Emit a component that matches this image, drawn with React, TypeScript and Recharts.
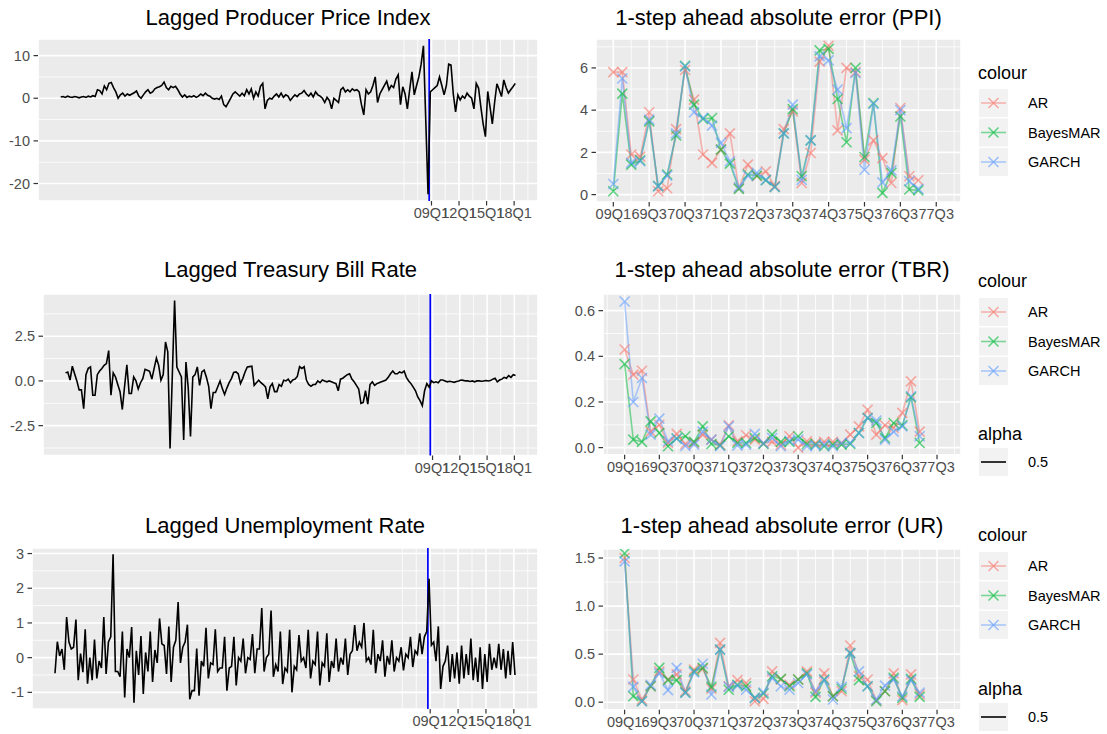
import React from 'react';
import { LineChart, Line, XAxis, YAxis, CartesianGrid, ReferenceLine } from 'recharts';

const FONT = '"Liberation Sans", Arial, Helvetica, sans-serif';

// ---- left column: lagged series, one value per quarter (index 0 = 1968Q4) ----
const ppiLagged = [
  0.3, 0.4, 0.2, 0.5, 0.3, 0.2, 0.4, 0.3, 0.1, 0.3, 0.4, 0.2, 0.5, 0.3, 0.6, 0.4,
  2.0, 1.8, 1.0, 2.9, 2.0, 3.5, 3.7, 2.5, 1.5, 0.0,
  0.8, 1.2, 0.5, 1.0, 0.7, 1.0, 1.3, 1.7, 0.5, 0.0,
  0.8, 1.5, 2.0, 1.2, 1.5, 2.2, 2.5, 2.7, 3.0, 3.8, 2.5,
  2.0, 2.8, 2.5, 2.8, 2.0, 1.0, 0.3, 0.8,
  0.2, 0.5, 0.3, 0.6, 0.2, 0.5, 1.0, 0.6, 1.2, 0.7, 0.5, 0.0,
  -0.2, 0.0, -0.3, 0.5, -1.5, -2.0,
  -1.0, 0.0, 1.0, 1.5, 1.0, 0.5, 1.2, 0.6, 2.0,
  1.0, 2.2, 0.0, 1.5, 0.5, 2.8, 3.5,
  -2.5, -0.5, 0.0, -0.2, 0.5, 1.0, 0.3, 1.2, 0.2, 0.8,
  0.5, -0.5, 0.2, 0.8, 0.4, 1.0, 1.2, 1.8, 1.0,
  0.5, 1.2, 0.3, 1.5, 0.8, 0.5,
  0.0, -1.0, 0.2, -0.5, -2.5, 0.0, -0.5, -1.0,
  2.0, 2.5, 1.5, 2.0, 1.5, 2.2, 1.8, 2.0, 1.5,
  -1.5, -3.9, 2.0, 1.0, 1.5, 3.0, 5.0, -1.0,
  1.0, 2.0, 3.0, 4.0, 2.0, 3.0, 2.5, 4.5, 5.5,
  -1.5, 2.7, 1.0, -2.5, 2.0, 6.2, 0.8, 3.0, 5.0, 8.0,
  12.3, -5.0, -22.5,
  1.5, 2.0, 2.5, 3.0, 5.0, 3.0, 0.8, 3.0, 8.0, 7.8, 1.0, -3.2, 0.8, -0.4, 0.5, 0.0,
  1.2, 0.5, 0.0, -2.5, 3.5, 2.4, -2.0, -6.0, -9.0, 1.6, -2.0, -6.0, -1.0, 3.4, 2.0,
  0.4, 4.3, 2.5, 1.2, 2.0, 2.7, 3.5,
];

const tbrLagged = [
  0.45, 0.5, 0.05, 0.82, 0.4, 0.0, -0.5, -0.5, -1.55, 0.35,
  0.7, 0.78, -0.8, -0.8, 0.35, 0.55, 0.7, 0.87, 0.97, 1.7,
  -0.8, 0.45, 0.22, -0.2, -0.6, -1.6, -0.3, 0.9, -0.7, -0.7,
  0.22, 0.0, -0.45, -0.1, 0.13, 0.65, 0.6, 0.54, 0.1, 0.7,
  1.28, 0.87, 0.04, 0.35, 2.18, 1.62, -3.78, 0.3, 4.5, 0.78,
  0.5, 0.22, -3.3, 1.06, -0.4, -3.1, 0.22, 0.35, 0.78, -0.25,
  0.5, 0.6, 0.2, -0.3, -1.55, -0.65, -0.65, -0.33, 0.0, -0.43,
  -0.76, -0.4, -0.1, 0.13, 0.47, 0.5, 0.4, -0.15, 0.13, 0.5,
  0.78, 0.8, 0.82, -0.25, -0.1, 0.04, -0.1, -0.2, -0.33, -1.0,
  -0.33, -0.15, -0.6, -0.6, -0.2, -0.3, 0.04, 0.0, 0.1, -0.1,
  0.05, 0.1, 0.25, 0.8, 0.7, 0.8, 0.05, -0.2, -0.3, -0.2,
  -0.2, 0.0, -0.1, 0.05, 0.0, -0.05, 0.0, -0.05, -0.1, -0.15,
  -0.55, 0.1, 0.15, 0.25, 0.35, 0.4, 0.1, -0.05, -0.25, -0.45,
  -1.25, -1.2, -0.55, -1.3, -0.2, -0.05, -0.25, -0.15, -0.1, -0.05,
  0.0, 0.05, 0.2, 0.4, 0.55, 0.4, 0.4, 0.5, 0.45, 0.55,
  0.2, 0.0, -0.15, -0.35, -0.55, -0.9, -1.1, -1.38, -0.55, -0.15,
  -0.35, 0.0, -0.1, -0.05, -0.1, 0.05, 0.05, 0.0, -0.05, -0.02,
  -0.05, -0.08, -0.03, 0.0, 0.05, 0.03, 0.0, 0.0, -0.03, 0.0,
  -0.05, 0.0, 0.0, -0.02, 0.0, 0.02, 0.0, 0.02, 0.1, 0.15,
  -0.05, 0.05, 0.1, 0.2, 0.15, 0.3, 0.2, 0.35, 0.3,
];

const urLagged = [
  -0.45, 0.46, 0.05, 0.25, -0.35, 1.17, 0.45, 0.25, 0.3, 1.1,
  -0.65, 0.12, -0.42, 0.82, -0.75, 0.0, -0.65, 0.52, -0.6, -0.1,
  -0.3, 1.17, -0.47, 0.45, 0.6, 2.98, -0.4, -0.4, -0.55, 0.75,
  -1.15, 0.25, 0.0, 0.88, -1.3, 0.2, -0.5, 0.62, -1.05, 0.15,
  -0.4, 0.75, -0.7, 0.22, -0.15, 1.13, 0.4, 0.35, -0.47, 0.9,
  -0.7, 0.3, 0.5, 1.6, -0.15, 0.3, 0.45, 0.95, -1.2, -0.95,
  -0.95, 0.26, -1.1, -0.1, -0.25, 0.86, -0.6, -0.15, -0.2, 0.82,
  -0.4, -0.3, -0.3, 0.6, -0.95, -0.3, -0.25, 0.6, -0.8, 0.0,
  -0.1, 0.55, -0.45, 0.0, -0.05, 0.68, -0.45, 0.25, 0.25, 1.43,
  -0.4, 0.0, 0.1, 1.36, -0.55, -0.2, -0.4, 0.75, -0.76, -0.3,
  -0.4, 0.8, -1.0, -0.25, -0.35, 0.65, -0.1, 0.0, -0.3, 0.8,
  -0.6, -0.1, -0.2, 0.75, -0.8, -0.15, -0.25, 0.7, -0.7, -0.1,
  -0.3, 0.55, -0.4, 0.0, -0.2, 0.55, -0.5, 0.1, 0.2, 0.94,
  0.2, 0.45, 0.3, 1.0, -0.1, 0.0, -0.2, 0.8, -0.45, 0.1,
  -0.1, 0.5, -0.55, 0.05, -0.2, 0.5, -0.4, 0.0, -0.1, 0.3,
  -0.37, 0.1, 0.0, 0.6, -0.27, 0.2, 0.1, 0.7, 0.1, 0.6,
  0.75, 2.27, 0.36, 0.45, -0.1, 0.9, -0.9, -0.25, -0.1, 0.35,
  -0.7, 0.1, -0.6, 0.15, -0.75, 0.35, -0.6, 0.1, -0.5, 0.55,
  -0.65, 0.0, -0.7, 0.3, -0.9, 0.1, -0.7, 0.4, -0.35, 0.0,
  -0.3, 0.4, -0.35, 0.25, -0.6, 0.2, -0.5, 0.45, -0.5,
];

const lagTicks = [161.5, 173.5, 185.5, 197.5];
const lagTickLabels = ['09Q1', '12Q1', '15Q1', '18Q1'];
const lagMinorX = [149.5, 155.5, 167.5, 179.5, 191.5, 203.5];
const splitQuarter = 160.5;

// ---- right column: 1-step ahead absolute errors, 35 forecast quarters ----
const errTickLabels = ['09Q1', '69Q3', '70Q3', '71Q3', '72Q3', '73Q3', '74Q3', '75Q3', '76Q3', '77Q3'];
const errTicks = [0, 4, 8, 12, 16, 20, 24, 28, 32, 36];
const errMinorX = [-2, 2, 6, 10, 14, 18, 22, 26, 30, 34, 38];

const ppiAR = [5.8, 5.8, 1.9, 1.8, 3.9, 0.16, 0.3, 3.1, 5.9, 4.5, 1.9, 1.5, 2.13, 2.9, 0.3, 1.42, 0.87, 1.1, 0.4, 3.1, 3.94, 0.55, 1.97, 6.3, 7.05, 3.04, 6.0, 5.8, 1.66, 2.57, 1.73, 0.55, 4.1, 0.87, 0.68];
const ppiBayes = [0.16, 4.78, 1.42, 1.62, 3.47, 0.4, 0.95, 2.8, 6.1, 4.26, 3.58, 3.63, 2.13, 1.47, 0.27, 0.95, 0.9, 0.68, 0.36, 2.9, 4.05, 0.87, 2.57, 6.83, 6.9, 4.53, 2.48, 6.0, 1.78, 4.34, 0.08, 1.03, 3.7, 0.24, 0.2];
const ppiGarch = [0.5, 5.5, 1.5, 1.58, 3.55, 0.4, 0.9, 2.9, 6.07, 3.9, 3.63, 3.27, 2.45, 1.58, 0.36, 0.9, 1.03, 0.7, 0.36, 2.9, 4.26, 0.7, 2.57, 6.55, 6.36, 4.97, 3.15, 5.76, 1.18, 4.3, 0.58, 1.15, 4.0, 0.63, 0.27];

const tbrAR = [0.43, 0.32, 0.337, 0.07, 0.1, 0.02, 0.06, 0.016, 0.02, 0.057, 0.035, 0.013, 0.098, 0.028, 0.054, 0.035, 0.019, 0.025, 0.013, 0.05, 0.0, 0.028, 0.02, 0.025, 0.025, 0.02, 0.057, 0.093, 0.166, 0.057, 0.098, 0.086, 0.152, 0.29, 0.07];
const tbrBayes = [0.366, 0.035, 0.025, 0.115, 0.064, 0.006, 0.04, 0.05, 0.025, 0.093, 0.016, 0.01, 0.05, 0.02, 0.02, 0.042, 0.016, 0.057, 0.025, 0.025, 0.05, 0.016, 0.013, 0.006, 0.013, 0.013, 0.016, 0.064, 0.13, 0.108, 0.042, 0.108, 0.098, 0.22, 0.02];
const tbrGarch = [0.64, 0.2, 0.305, 0.057, 0.127, 0.028, 0.04, 0.007, 0.013, 0.07, 0.035, 0.007, 0.093, 0.01, 0.013, 0.06, 0.019, 0.042, 0.006, 0.03, 0.035, 0.006, 0.01, 0.013, 0.006, 0.02, 0.02, 0.064, 0.13, 0.118, 0.035, 0.07, 0.093, 0.225, 0.05];

const urAR = [1.5, 0.236, 0.028, 0.166, 0.32, 0.236, 0.29, 0.114, 0.34, 0.346, 0.14, 0.617, 0.166, 0.23, 0.2, 0.01, 0.035, 0.32, 0.236, 0.18, 0.236, 0.32, 0.1, 0.3, 0.062, 0.114, 0.59, 0.27, 0.236, 0.02, 0.114, 0.3, 0.02, 0.29, 0.08];
const urBayes = [1.55, 0.062, 0.01, 0.166, 0.357, 0.23, 0.23, 0.1, 0.32, 0.357, 0.16, 0.547, 0.13, 0.18, 0.166, 0.045, 0.09, 0.27, 0.243, 0.166, 0.236, 0.3, 0.055, 0.236, 0.062, 0.14, 0.51, 0.23, 0.166, 0.01, 0.114, 0.253, 0.045, 0.243, 0.055];
const urGarch = [1.465, 0.16, 0.01, 0.18, 0.3, 0.125, 0.357, 0.1, 0.31, 0.4, 0.08, 0.547, 0.16, 0.173, 0.13, 0.045, 0.1, 0.253, 0.166, 0.13, 0.2, 0.29, 0.114, 0.23, 0.028, 0.16, 0.51, 0.32, 0.166, 0.028, 0.173, 0.236, 0.062, 0.23, 0.1];

const models = ['AR', 'BayesMAR', 'GARCH'];
const modelColors = ['#F8766D', '#00BA38', '#619CFF'];

const lagRows = (vals: number[]) => vals.map((v, i) => ({ x: i, v }));
const errRows = (a: number[], b: number[], g: number[]) =>
  a.map((v, k) => ({ x: k, AR: v, BayesMAR: b[k], GARCH: g[k] }));

const tickStyle = { fill: '#4D4D4D', fontSize: 14.5, fontFamily: FONT };
const tickLine = { stroke: '#333333', strokeWidth: 1.2 };

const crossPath = (cx: number, cy: number, s: number) =>
  `M${cx - s},${cy - s}L${cx + s},${cy + s}M${cx - s},${cy + s}L${cx + s},${cy - s}`;

const cross = (color: string) => (props: any) => {
  const { cx, cy, index } = props;
  const k = `c-${color}-${index}`;
  if (cx == null || cy == null) return <g key={k} />;
  return (
    <path key={k} d={crossPath(cx, cy, 5)} stroke={color} strokeOpacity={0.6} strokeWidth={1.6} fill="none" />
  );
};

type PanelCfg = {
  left: number; top: number; plotW: number; plotH: number; axisW: number;
  xDomain: [number, number]; yDomain: [number, number];
  xTicks: number[]; xFmt: (v: number) => string;
  yTicks: number[]; yFmt: (v: number) => string;
  minorX: number[]; minorY: number[];
};

const PAD = 12;

const renderPanel = (cfg: PanelCfg, data: any[], series: React.ReactNode[]) => {
  const xAxisH = 28;
  return (
    <div style={{ position: 'absolute', left: cfg.left - cfg.axisW, top: cfg.top - PAD }}>
      <LineChart
        width={cfg.axisW + cfg.plotW + PAD}
        height={cfg.plotH + xAxisH + PAD}
        data={data}
        margin={{ top: PAD, right: PAD, bottom: 0, left: 0 }}
      >
        <CartesianGrid fill="#EBEBEB" fillOpacity={1} stroke="#FFFFFF" strokeWidth={1.6} />
        {cfg.minorY.map((v) => (
          <ReferenceLine key={`my${v}`} y={v} stroke="#FFFFFF" strokeWidth={0.8} zIndex={-50} />
        ))}
        {cfg.minorX.map((v) => (
          <ReferenceLine key={`mx${v}`} x={v} stroke="#FFFFFF" strokeWidth={0.8} zIndex={-50} />
        ))}
        <XAxis
          dataKey="x"
          type="number"
          domain={cfg.xDomain}
          allowDataOverflow
          ticks={cfg.xTicks}
          interval={0}
          tickFormatter={cfg.xFmt}
          height={xAxisH}
          axisLine={false}
          tickLine={tickLine}
          tickSize={4.5}
          tickMargin={2.5}
          tick={tickStyle}
        />
        <YAxis
          type="number"
          domain={cfg.yDomain}
          allowDataOverflow
          ticks={cfg.yTicks}
          interval={0}
          tickFormatter={cfg.yFmt}
          width={cfg.axisW}
          axisLine={false}
          tickLine={tickLine}
          tickSize={4.5}
          tickMargin={3.5}
          tick={tickStyle}
        />
        {series}
      </LineChart>
    </div>
  );
};

const lagPanel = (cfg: PanelCfg, vals: number[]) =>
  renderPanel(cfg, lagRows(vals), [
    <ReferenceLine key="split" x={splitQuarter} stroke="#0000FF" strokeWidth={1.7} zIndex={-10} />,
    <Line
      key="lag"
      dataKey="v"
      type="linear"
      stroke="#000000"
      strokeWidth={1.6}
      dot={false}
      isAnimationActive={false}
    />,
  ]);

const errPanel = (cfg: PanelCfg, a: number[], b: number[], g: number[]) =>
  renderPanel(
    cfg,
    errRows(a, b, g),
    models.map((m, i) => (
      <Line
        key={m}
        dataKey={m}
        type="linear"
        stroke={modelColors[i]}
        strokeOpacity={0.5}
        strokeWidth={1.6}
        dot={cross(modelColors[i])}
        isAnimationActive={false}
      />
    ))
  );

const lagX = (v: number) => lagTickLabels[lagTicks.indexOf(v)] ?? '';
const errX = (v: number) => errTickLabels[errTicks.indexOf(v)] ?? '';
const fmt1 = (v: number) => v.toFixed(1);
const fmt0 = (v: number) => String(v);

const lagDomain: [number, number] = [-9.9, 207.9];
const errDomain: [number, number] = [-2.49, 38.76];

const Title = ({ text, cx, cy }: { text: string; cx: number; cy: number }) => (
  <div
    style={{
      position: 'absolute', left: cx - 250, top: cy - 13, width: 500, textAlign: 'center',
      fontSize: 22, lineHeight: '26px', fontFamily: FONT, color: '#000', whiteSpace: 'nowrap',
    }}
  >
    {text}
  </div>
);

type LegendCfg = { titleY: number; itemY: number; alphaY?: number; alphaItemY?: number };

const LEG_X = 978;
const KEY_W = 29;
const KEY_H = 28;
const PITCH = 29.5;

const Legend = ({ titleY, itemY, alphaY, alphaItemY }: LegendCfg) => (
  <svg style={{ position: 'absolute', left: 0, top: 0, overflow: 'visible' }} width={1107} height={734}>
    <text x={LEG_X} y={titleY + 6.5} fontSize={18} fontFamily={FONT} fill="#000">colour</text>
    {models.map((m, i) => {
      const cy = itemY + i * PITCH;
      const c = modelColors[i];
      const mid = LEG_X + 1 + KEY_W / 2;
      return (
        <g key={m}>
          <rect x={LEG_X + 1} y={cy - KEY_H / 2} width={KEY_W} height={KEY_H} fill="#F2F2F2" />
          <line x1={LEG_X + 3} x2={LEG_X + KEY_W - 1} y1={cy} y2={cy} stroke={c} strokeOpacity={0.5} strokeWidth={1.6} />
          <path d={crossPath(mid, cy, 5)} stroke={c} strokeOpacity={0.6} strokeWidth={1.6} fill="none" />
          <text x={LEG_X + 50} y={cy + 5} fontSize={14.5} fontFamily={FONT} fill="#000">{m}</text>
        </g>
      );
    })}
    {alphaY != null && alphaItemY != null && (
      <g>
        <text x={LEG_X} y={alphaY + 6.5} fontSize={18} fontFamily={FONT} fill="#000">alpha</text>
        <rect x={LEG_X + 1} y={alphaItemY - KEY_H / 2} width={KEY_W} height={KEY_H} fill="#F2F2F2" />
        <line x1={LEG_X + 3} x2={LEG_X + KEY_W - 1} y1={alphaItemY} y2={alphaItemY} stroke="#000" strokeWidth={1.6} />
        <text x={LEG_X + 50} y={alphaItemY + 5} fontSize={14.5} fontFamily={FONT} fill="#000">0.5</text>
      </g>
    )}
  </svg>
);

const lagPpiCfg: PanelCfg = {
  left: 38, top: 38.5, plotW: 500, plotH: 162, axisW: 38,
  xDomain: lagDomain, yDomain: [-24.1, 13.9], xTicks: lagTicks, xFmt: lagX,
  yTicks: [-20, -10, 0, 10], yFmt: fmt0, minorX: lagMinorX, minorY: [-15, -5, 5],
};
const lagTbrCfg: PanelCfg = {
  left: 43, top: 293.5, plotW: 495, plotH: 161.5, axisW: 43,
  xDomain: lagDomain, yDomain: [-4.17, 4.86], xTicks: lagTicks, xFmt: lagX,
  yTicks: [-2.5, 0, 2.5], yFmt: fmt1, minorX: lagMinorX, minorY: [-3.75, -1.25, 1.25, 3.75],
};
const lagUrCfg: PanelCfg = {
  left: 32, top: 548, plotW: 506, plotH: 161, axisW: 32,
  xDomain: lagDomain, yDomain: [-1.48, 3.16], xTicks: lagTicks, xFmt: lagX,
  yTicks: [-1, 0, 1, 2, 3], yFmt: fmt0, minorX: lagMinorX, minorY: [-0.5, 0.5, 1.5, 2.5],
};

const errPpiCfg: PanelCfg = {
  left: 596, top: 38.5, plotW: 365, plotH: 163, axisW: 36,
  xDomain: [-1.93, 38.76], yDomain: [-0.35, 7.37], xTicks: errTicks, xFmt: errX,
  yTicks: [0, 2, 4, 6], yFmt: fmt0, minorX: errMinorX, minorY: [1, 3, 5, 7],
};
const errTbrCfg: PanelCfg = {
  left: 603, top: 294, plotW: 358, plotH: 160.7, axisW: 43,
  xDomain: errDomain, yDomain: [-0.031, 0.673], xTicks: errTicks, xFmt: errX,
  yTicks: [0, 0.2, 0.4, 0.6], yFmt: fmt1, minorX: errMinorX, minorY: [0.1, 0.3, 0.5],
};
const errUrCfg: PanelCfg = {
  left: 603, top: 549, plotW: 358, plotH: 160.7, axisW: 43,
  xDomain: errDomain, yDomain: [-0.078, 1.594], xTicks: errTicks, xFmt: errX,
  yTicks: [0, 0.5, 1, 1.5], yFmt: fmt1, minorX: errMinorX, minorY: [0.25, 0.75, 1.25],
};

export default function App() {
  return (
    <div
      style={{
        position: 'absolute', left: 0, top: 0, width: 1107, height: 734,
        background: '#FFFFFF', overflow: 'hidden', fontFamily: FONT,
      }}
    >
      <Title text="Lagged Producer Price Index" cx={288} cy={18} />
      <Title text="Lagged Treasury Bill Rate" cx={290.5} cy={270} />
      <Title text="Lagged Unemployment Rate" cx={285} cy={526} />
      <Title text="1-step ahead absolute error (PPI)" cx={778.5} cy={18} />
      <Title text="1-step ahead absolute error (TBR)" cx={782} cy={270} />
      <Title text="1-step ahead absolute error (UR)" cx={782} cy={526} />

      {lagPanel(lagPpiCfg, ppiLagged)}
      {lagPanel(lagTbrCfg, tbrLagged)}
      {lagPanel(lagUrCfg, urLagged)}

      {errPanel(errPpiCfg, ppiAR, ppiBayes, ppiGarch)}
      {errPanel(errTbrCfg, tbrAR, tbrBayes, tbrGarch)}
      {errPanel(errUrCfg, urAR, urBayes, urGarch)}

      <Legend titleY={72} itemY={103} />
      <Legend titleY={280} itemY={312} alphaY={433} alphaItemY={462} />
      <Legend titleY={534} itemY={566} alphaY={688} alphaItemY={717} />
    </div>
  );
}
